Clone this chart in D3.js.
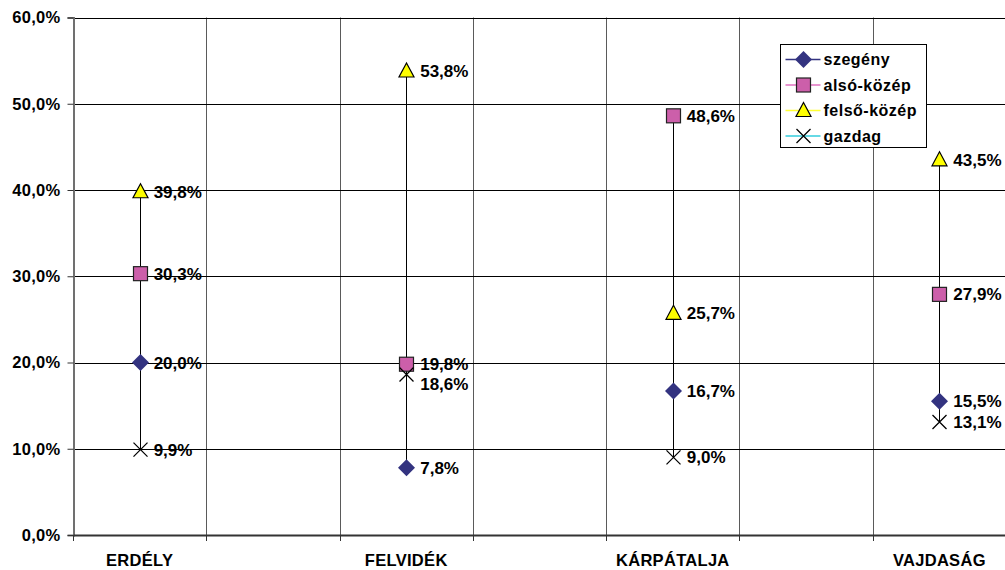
<!DOCTYPE html>
<html>
<head>
<meta charset="utf-8">
<script src="https://cdn.jsdelivr.net/npm/d3@7/dist/d3.min.js"></script>
<style>
  html, body { margin: 0; padding: 0; background: #fff; }
  svg { display: block; font-family: "Liberation Sans", Arial, sans-serif; font-weight: bold; }
</style>
</head>
<body>
<svg id="chart" width="1005" height="570"></svg>
<script>
// Category slots: regions sit in every other slot, blanks separate them
const slotLabels = ["ERDÉLY", "", "FELVIDÉK", "", "KÁRPÁTALJA", "", "VAJDASÁG"];
const regionSlots = [0, 2, 4, 6];

const seriesNames = ["szegény", "alsó-közép", "felső-közép", "gazdag"];
const szegeny    = [20.0, 7.8, 16.7, 15.5];
const alsoKozep  = [30.3, 19.8, 48.6, 27.9];
const felsoKozep = [39.8, 53.8, 25.7, 43.5];
const gazdag     = [9.9, 18.6, 9.0, 13.1];
const yTicks = [0, 10, 20, 30, 40, 50, 60];

const seriesValues = [szegeny, alsoKozep, felsoKozep, gazdag];

const styles = [
  { marker: "diamond",  fill: "#333380", stroke: "#333380", line: "#333380" },
  { marker: "square",   fill: "#CC5FAA", stroke: "#222",    line: "#E070C0" },
  { marker: "triangle", fill: "#FFFF00", stroke: "#000",    line: "#FFFF33" },
  { marker: "cross",    fill: "none",    stroke: "#000",    line: "#33CCDD" }
];

const margin = { left: 73, right: 0, top: 17.5, bottom: 35 };
const W = 1005, H = 570;
const svg = d3.select("#chart");

const x = d3.scaleBand().domain(d3.range(slotLabels.length))
  .range([margin.left, W - margin.right + 1]).padding(0);
const y = d3.scaleLinear().domain([0, 60]).range([H - margin.bottom, margin.top]);
const fmt = v => d3.format(".1f")(v).replace(".", ",") + "%";

// Vertical gridlines at slot boundaries
const bounds = d3.range(slotLabels.length + 1).map(i => margin.left + i * x.bandwidth());
svg.append("g").selectAll("line").data(bounds.slice(1)).join("line")
  .attr("x1", d => Math.round(d) + 0.5).attr("x2", d => Math.round(d) + 0.5)
  .attr("y1", y(60)).attr("y2", y(0))
  .attr("stroke", "#5a5a5a").attr("stroke-width", 1);

// Horizontal gridlines
svg.append("g").selectAll("line").data(yTicks.slice(1)).join("line")
  .attr("x1", margin.left).attr("x2", W)
  .attr("y1", d => Math.round(y(d)) + 0.5).attr("y2", d => Math.round(y(d)) + 0.5)
  .attr("stroke", "#000").attr("stroke-width", 1);

// Y axis
const yAxis = svg.append("g").attr("transform", `translate(${margin.left + 0.5},0)`)
  .call(d3.axisLeft(y).tickValues(yTicks).tickSize(6).tickPadding(7).tickFormat(fmt));
yAxis.attr("font-family", null).attr("font-size", null);
yAxis.select(".domain").attr("stroke", "#707070").attr("stroke-width", 2);
yAxis.selectAll(".tick line").attr("stroke", "#333");
yAxis.selectAll(".tick text").attr("font-size", 16.5).attr("font-weight", "bold")
  .attr("fill", "#000").style("letter-spacing", "0.3px");

// X axis
const xAxis = svg.append("g").attr("transform", `translate(0,${y(0)})`)
  .call(d3.axisBottom(x).tickSize(0).tickFormat(i => slotLabels[i]));
xAxis.attr("font-family", null).attr("font-size", null);
xAxis.select(".domain").attr("stroke", "#333").attr("stroke-width", 2);
xAxis.selectAll(".tick text").attr("font-size", 16.5).attr("font-weight", "bold")
  .attr("fill", "#000").attr("y", 0).attr("dy", "31px").style("letter-spacing", "0.3px");
svg.append("g").selectAll("line").data(bounds).join("line")
  .attr("x1", d => Math.round(d) + 0.5).attr("x2", d => Math.round(d) + 0.5)
  .attr("y1", y(0)).attr("y2", y(0) + 6)
  .attr("stroke", "#333");

// High-low lines per region
const cx = i => x(regionSlots[i]) + x.bandwidth() / 2;
svg.append("g").selectAll("line").data(regionSlots.map((s, i) => i)).join("line")
  .attr("x1", i => Math.round(cx(i)) + 0.5).attr("x2", i => Math.round(cx(i)) + 0.5)
  .attr("y1", i => y(d3.max(seriesValues, s => s[i])))
  .attr("y2", i => y(d3.min(seriesValues, s => s[i])))
  .attr("stroke", "#000").attr("stroke-width", 1);

function drawMarker(g, type, st) {
  if (type === "diamond") {
    g.append("path").attr("d", "M0,-8.5L8.5,0L0,8.5L-8.5,0Z").attr("fill", st.fill);
  } else if (type === "square") {
    g.append("rect").attr("x", -7).attr("y", -7).attr("width", 14).attr("height", 14)
      .attr("fill", st.fill).attr("stroke", st.stroke).attr("stroke-width", 1.2);
  } else if (type === "triangle") {
    g.append("path").attr("d", "M0,-8L7.5,6L-7.5,6Z")
      .attr("fill", st.fill).attr("stroke", st.stroke).attr("stroke-width", 1.2);
  } else {
    g.append("path").attr("d", "M-7,-7L7,7M7,-7L-7,7")
      .attr("stroke", st.stroke).attr("stroke-width", 1.3).attr("fill", "none");
  }
}

// Label nudges where two values nearly coincide
const labelShift = { "3-1": 9.5 };

// Markers and data labels
seriesValues.forEach((vals, si) => {
  const g = svg.append("g");
  vals.forEach((v, i) => {
    const mg = g.append("g").attr("transform", `translate(${Math.round(cx(i)) + 0.5},${y(v)})`);
    drawMarker(mg, styles[si].marker, styles[si]);
    g.append("text")
      .attr("x", cx(i) + 14)
      .attr("y", y(v) + (labelShift[`${si}-${i}`] || 0))
      .attr("dy", "0.36em")
      .attr("font-size", 17).attr("fill", "#000")
      .text(fmt(v));
  });
});

// Legend
const lg = svg.append("g").attr("transform", "translate(780.5,44.5)");
lg.append("rect").attr("width", 146).attr("height", 103)
  .attr("fill", "#fff").attr("stroke", "#000").attr("stroke-width", 1);
seriesNames.forEach((name, i) => {
  const yy = 15 + i * 25.5;
  const row = lg.append("g").attr("transform", `translate(0,${yy})`);
  row.append("line").attr("x1", 5).attr("x2", 40).attr("y1", 0).attr("y2", 0)
    .attr("stroke", styles[i].line).attr("stroke-width", 1.3);
  drawMarker(row.append("g").attr("transform", "translate(23,0)"), styles[i].marker, styles[i]);
  row.append("text").attr("x", 43).attr("y", 0).attr("dy", "0.36em")
    .attr("font-size", 16).style("letter-spacing", "0.5px").attr("fill", "#000").text(name);
});
</script>
</body>
</html>
